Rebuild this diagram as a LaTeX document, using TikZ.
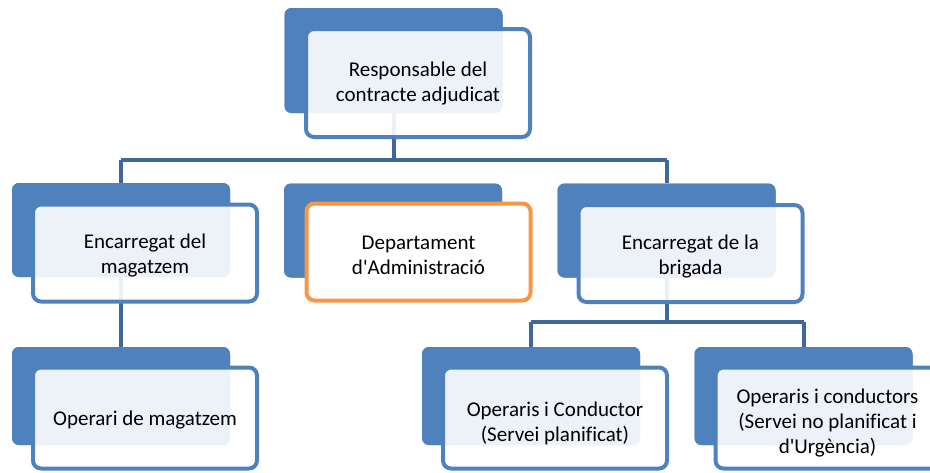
\documentclass[tikz,border=0pt]{standalone}
\usepackage{fontspec}
\setmainfont{Carlito}[Ligatures={TeXOff,NoCommon}]
\definecolor{boxblue}{RGB}{79,129,189}
\definecolor{connblue}{RGB}{62,104,153}
\definecolor{orangeline}{RGB}{247,150,70}
\begin{document}
\begin{tikzpicture}[x=1pt,y=-1pt,
  backbox/.style={fill=boxblue, draw=none, rounded corners=7pt, minimum width=218pt, inner sep=0pt},
  frontbox/.style={fill=white, fill opacity=0.9, draw=boxblue, line width=4pt, rounded corners=8pt, minimum width=224pt, inner sep=0pt},
  boxtext/.style={text opacity=1, fill opacity=0, draw=none, align=center, inner sep=0pt, font=\fontsize{21}{25}\selectfont},
  conn/.style={draw=connblue, line width=4pt}]
\useasboundingbox (0,0) rectangle (930,472);
\clip (0,0) rectangle (930,472);
% coordinates for horizontal bars
\coordinate (bar1) at (0,160);
\coordinate (bar2) at (0,322);
% back boxes (placed first so connectors can refer to them)
\node[backbox, minimum height=105pt] (b0) at (393.5,60.5) {};
\node[backbox, minimum height=94pt] (b1) at (121,230) {};
\node[backbox, minimum height=94pt] (b2) at (393,230.5) {};
\node[backbox, minimum height=94pt] (b3) at (666.5,230.5) {};
\node[backbox, minimum height=98pt] (b4) at (121,396) {};
\node[backbox, minimum height=98pt] (b5) at (531,396) {};
\node[backbox, minimum height=98pt] (b6) at (803.5,396) {};
% connectors
\draw[conn] (b0.south) -- (b0.south |- bar1);
\draw[conn] (b1.north |- bar1) -- (b3.north |- bar1);
\draw[conn] (b1.north |- bar1) -- (b1.north);
\draw[conn] (b3.north |- bar1) -- (b3.north);
\draw[conn] (b1.south) -- (b4.north);
\draw[conn] (b3.south) -- (b3.south |- bar2);
\draw[conn] (b5.north |- bar2) -- (b6.north |- bar2);
\draw[conn] (b5.north |- bar2) -- (b5.north);
\draw[conn] (b6.north |- bar2) -- (b6.north);
% redraw back boxes over connectors
\node[backbox, minimum height=105pt] at (b0) {};
\node[backbox, minimum height=94pt] at (b1) {};
\node[backbox, minimum height=94pt] at (b2) {};
\node[backbox, minimum height=94pt] at (b3) {};
\node[backbox, minimum height=98pt] at (b4) {};
\node[backbox, minimum height=98pt] at (b5) {};
\node[backbox, minimum height=98pt] at (b6) {};
% front boxes
\node[frontbox, minimum height=108pt, label={[boxtext, yshift=-1pt]center:{Responsable del\\contracte adjudicat}}] (f0) at (418,83) {};
\node[frontbox, minimum height=97pt, label={[boxtext, yshift=-3pt]center:{Encarregat del\\magatzem}}] (f1) at (145,253) {};
\node[frontbox, minimum height=97pt, draw=orangeline, fill opacity=1, label={[boxtext, yshift=-3pt]center:{Departament\\d'Administració}}] (f2) at (418.5,252) {};
\node[frontbox, minimum height=97pt, label={[boxtext, yshift=-3pt]center:{Encarregat de la\\brigada}}] (f3) at (690.5,253.5) {};
\node[frontbox, minimum height=101pt, label={[boxtext, yshift=-2pt]center:{Operari de magatzem}}] (f4) at (145,418) {};
\node[frontbox, minimum height=101pt, label={[boxtext, yshift=-5pt]center:{Operaris i Conductor\\(Servei planificat)}}] (f5) at (555,418) {};
\node[frontbox, minimum height=101pt, label={[boxtext, yshift=-5pt]center:{Operaris i conductors\\(Servei no planificat i\\d'Urgència)}}] (f6) at (827.5,418) {};
\end{tikzpicture}
\end{document}
